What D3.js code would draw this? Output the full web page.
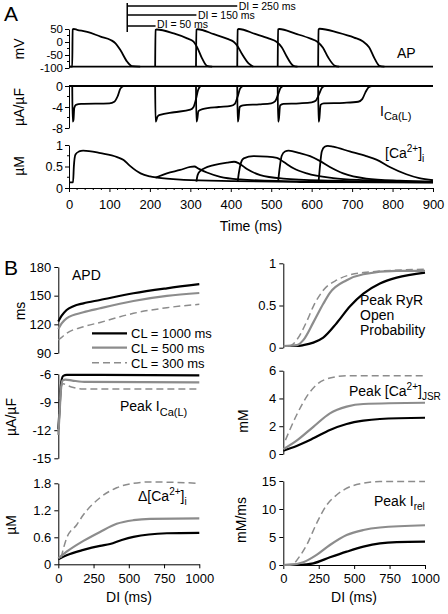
<!DOCTYPE html>
<html><head><meta charset="utf-8">
<script src="https://cdn.jsdelivr.net/npm/d3@7"></script>
<style>
body{margin:0;background:#fff}
svg{font-family:"Liberation Sans",Arial,Helvetica,sans-serif;}
</style></head><body>
<svg id="c" width="448" height="614"></svg>
<script>
// ---------------- DATA: Panel A ----------------
const timeTicks = [0,100,200,300,400,500,600,700,800,900];
const apTicks = [50,0,-50,-100];
const icaTicks = [0,-4,-8];
const caTicks = [0,0.5,1];
const restV = -95;
const ap1 = [[0,-95],[8,-95],[9,48],[12,50],[20,47],[45,39],[78,21],[103,8],[115,-5],[127,-31],[144,-76],[156,-93],[176,-95]];
const ap2 = [[213,-95],[214,46],[217,48],[259,33],[292,14],[308,1],[316,-18],[329,-63],[341,-92],[354,-95]];
const ap3 = [[314,-95],[315,47],[318,49],[358,30],[392,12],[407,1],[415,-12],[427,-44],[444,-82],[456,-95]];
const ap4 = [[416,-95],[417,47],[420,50],[460,31],[495,13],[513,1],[526,-20],[538,-55],[555,-92],[565,-95]];
const ap5 = [[516,-95],[517,48],[520,50],[560,32],[597,13],[614,1],[628,-22],[641,-60],[658,-92],[668,-95]];
const ap6 = [[616,-95],[617,48],[620,51],[665,36],[705,17],[727,2],[742,-20],[756,-65],[768,-92],[780,-95]];
const ica1 = [[8,0],[9,-6.8],[11,-6.5],[13,-4.2],[17,-3.6],[30,-3.4],[100,-3.3],[112,-3.0],[120,-2.0],[127,-0.5],[135,0]];
const ica2 = [[213,0],[214,-6.8],[216,-6.5],[219,-5.8],[225,-5.5],[260,-5.0],[300,-4.5],[308,-4.0],[314,-2.5],[319,-0.8],[325,0]];
const ica3 = [[314,0],[315,-6.8],[317,-6.4],[320,-4.8],[330,-4.4],[370,-4.0],[400,-3.8],[410,-3.4],[417,-2.0],[423,-0.5],[430,0]];
const ica4 = [[416,0],[417,-6.8],[419,-6.3],[422,-4.0],[430,-3.7],[470,-3.5],[500,-3.3],[510,-2.9],[517,-1.6],[523,-0.4],[530,0]];
const ica5 = [[516,0],[517,-6.8],[519,-6.2],[522,-3.7],[530,-3.4],[570,-3.3],[600,-3.1],[610,-2.8],[618,-1.6],[625,-0.4],[632,0]];
const ica6 = [[616,0],[617,-6.8],[619,-6.2],[622,-3.6],[630,-3.3],[680,-3.2],[715,-3.0],[725,-2.5],[733,-1.2],[740,-0.3],[748,0]];
const ca1 = [[0,0.13],[10,0.13],[12,0.5],[16,0.78],[25,0.85],[35,0.87],[78,0.81],[119,0.72],[135,0.65],[150,0.52],[177,0.34],[200,0.27],[218,0.24],[284,0.19],[407,0.16],[571,0.14],[900,0.13]];
const ca2 = [[214,0.24],[242,0.34],[275,0.42],[300,0.49],[310,0.5],[320,0.45],[341,0.36],[374,0.26],[423,0.2],[530,0.16],[700,0.14],[900,0.13]];
const ca3 = [[315,0.15],[318,0.3],[325,0.4],[335,0.46],[358,0.53],[391,0.59],[408,0.61],[419,0.58],[440,0.44],[473,0.3],[530,0.22],[653,0.17],[900,0.13]];
const ca4 = [[417,0.14],[420,0.35],[425,0.58],[432,0.69],[456,0.74],[490,0.73],[514,0.7],[530,0.61],[555,0.46],[588,0.34],[653,0.23],[735,0.18],[900,0.14]];
const ca5 = [[517,0.14],[520,0.4],[526,0.75],[534,0.85],[543,0.87],[571,0.81],[596,0.74],[620,0.63],[645,0.49],[678,0.34],[735,0.22],[817,0.17],[900,0.15]];
const ca6 = [[617,0.14],[620,0.45],[625,0.85],[632,0.96],[640,0.98],[653,0.96],[694,0.85],[735,0.74],[760,0.66],[793,0.49],[834,0.32],[866,0.23],[900,0.18]];
const diStart = 144;
const diEnds = [416,315,214];
const diLabels = ["DI = 250 ms","DI = 150 ms","DI = 50 ms"];

// ---------------- DATA: Panel B ----------------
const diTicks = [0,250,500,750,1000];
const clLabels = ["CL = 1000 ms","CL = 500 ms","CL = 300 ms"];
const apdTicks = [90,120,150,180];
const apd1000 = [[0,123],[24,129],[59,135],[107,139],[178,142],[296,145.5],[533,152.5],[770,157.7],[1000,162]];
const apd500 = [[0,115],[24,121],[59,126.3],[178,132.6],[296,136.8],[533,144.4],[770,149.7],[1000,152.8]];
const apd300 = [[0,103.6],[24,106.4],[59,110.6],[178,117.5],[296,122],[533,131.5],[770,137.4],[1000,141]];
const pkIcaTicks = [-15,-12,-9,-6];
const pkIca1000 = [[0,-11.9],[8,-10],[15,-8],[20,-7],[24,-6.6],[35,-6.2],[60,-6.1],[300,-6.1],[1000,-6.15]];
const pkIca500 = [[0,-12.5],[8,-10.5],[15,-8.5],[22,-7.2],[30,-6.7],[50,-6.6],[100,-6.7],[200,-6.85],[1000,-6.9]];
const pkIca300 = [[0,-12.2],[8,-10.2],[15,-8.2],[22,-7.3],[35,-7.05],[60,-7.2],[107,-7.45],[178,-7.6],[1000,-7.6]];
const dCaTicks = [0,0.6,1.2,1.8];
const dCa1000 = [[0,0.11],[59,0.2],[178,0.32],[296,0.41],[367,0.45],[450,0.54],[533,0.61],[770,0.69],[1000,0.7]];
const dCa500 = [[0,0.13],[59,0.28],[178,0.52],[296,0.72],[414,0.9],[533,0.98],[651,1.01],[1000,1.02]];
const dCa300 = [[20,0.15],[59,0.58],[131,0.88],[178,1.1],[296,1.48],[414,1.7],[533,1.8],[651,1.83],[1000,1.8]];
const ryrTicks = [0,0.5,1];
const ryr1000 = [[0,0.02],[94,0.02],[141,0.03],[212,0.06],[282,0.12],[376,0.29],[471,0.49],[565,0.64],[682,0.76],[800,0.83],[1000,0.89]];
const ryr500 = [[0,0.02],[94,0.03],[141,0.09],[212,0.3],[282,0.52],[329,0.65],[447,0.8],[565,0.87],[800,0.91],[1000,0.91]];
const ryr300 = [[40,0.02],[59,0.03],[94,0.09],[165,0.31],[212,0.49],[282,0.68],[376,0.8],[565,0.89],[1000,0.93]];
const jsrTicks = [0,2,4,6];
const jsr1000 = [[0,0.24],[94,0.58],[212,1.13],[329,1.73],[447,2.16],[565,2.4],[682,2.52],[1000,2.61]];
const jsr500 = [[0,0.34],[94,0.96],[212,1.96],[329,2.93],[447,3.41],[565,3.6],[1000,3.69]];
const jsr300 = [[15,1.0],[94,2.81],[165,4.13],[235,4.99],[329,5.47],[447,5.63],[1000,5.63]];
const relTicks = [0,5,10,15];
const rel1000 = [[0,0],[118,0.02],[212,0.3],[329,1.37],[447,2.38],[565,3.27],[682,3.87],[800,4.1],[1000,4.17]];
const rel500 = [[0,0],[47,0.02],[141,0.48],[235,1.8],[329,3.57],[447,5.36],[565,6.25],[682,6.7],[1000,7.1]];
const rel300 = [[85,0.5],[165,3.57],[235,7.44],[306,10.7],[376,12.5],[447,13.7],[565,14.6],[682,14.9],[1000,14.9]];

// ---------------- DRAW ----------------
const svg = d3.select("#c");
const FONT = 13;
const styles = [
  {stroke:"#000", width:2.2, dash:null},
  {stroke:"#8c8c8c", width:2.2, dash:null},
  {stroke:"#8c8c8c", width:1.5, dash:"7,4"}
];

function yAxis(x, scale, ticks, opts={}) {
  const g = svg.append("g").attr("transform", `translate(${x},0)`)
    .call(d3.axisLeft(scale).tickValues(ticks).tickSize(4).tickSizeOuter(0)
      .tickPadding(opts.pad ?? 3).tickFormat(d => String(d)));
  g.selectAll("text").attr("font-size", opts.fs ?? FONT).attr("fill","#000");
  g.attr("font-family", null);
  g.selectAll("line,path").attr("stroke","#000");
  if (opts.minor) {
    opts.minor.forEach(v => g.append("line").attr("x1",-2).attr("x2",0).attr("y1",scale(v)).attr("y2",scale(v)).attr("stroke","#000"));
  }
  return g;
}
function xAxis(y, scale, ticks, opts={}) {
  const g = svg.append("g").attr("transform", `translate(0,${y})`)
    .call(d3.axisBottom(scale).tickValues(ticks).tickSize(4).tickSizeOuter(0)
      .tickPadding(opts.pad ?? 5).tickFormat(d => String(d)));
  g.selectAll("text").attr("font-size", opts.fs ?? FONT).attr("fill","#000");
  g.attr("font-family", null);
  g.selectAll("line,path").attr("stroke","#000");
  if (opts.minor) {
    opts.minor.forEach(v => g.append("line").attr("y1",0).attr("y2",2).attr("x1",scale(v)).attr("x2",scale(v)).attr("stroke","#000"));
  }
  return g;
}
function rotLabel(x, y, txt, fs=14) {
  return svg.append("text").attr("transform", `translate(${x},${y}) rotate(-90)`)
    .attr("text-anchor","middle").attr("font-size", fs).text(txt);
}
function drawLines(series, xs, ys, curve, styleArr, w) {
  const line = d3.line().x(d => xs(d[0])).y(d => ys(d[1])).curve(curve);
  series.forEach((s,i) => {
    const st = styleArr[i];
    svg.append("path").datum(s).attr("fill","none").attr("stroke",st.stroke)
      .attr("stroke-width", w ?? st.width).attr("stroke-dasharray", st.dash)
      .attr("stroke-linejoin","round").attr("d", line);
  });
}

// ===== Panel A =====
const xA = d3.scaleLinear().domain([0,900]).range([69,433]);
const yAP = d3.scaleLinear().domain([-100,50]).range([68,29]);
const yICa = d3.scaleLinear().domain([-8,0]).range([128,86]);
const yCa = d3.scaleLinear().domain([0,1]).range([188,145]);

svg.append("text").attr("x",4).attr("y",21).attr("font-size",21).text("A");

yAxis(69, yAP, apTicks, {minor:[25,-25,-75], pad:2, fs:11.5});
yAxis(69, yICa, icaTicks, {minor:[-2,-6], pad:2, fs:12.5});
yAxis(69, yCa, caTicks, {minor:[0.25,0.75], pad:2, fs:12.5});
const minorT = d3.range(0,901,20).filter(v => v % 100 !== 0);
xAxis(188, xA, timeTicks, {minor:minorT, pad:8});

rotLabel(24, 49, "mV");
rotLabel(24, 107, "µA/µF");
rotLabel(24, 166, "µM");
svg.append("text").attr("x",251).attr("y",231).attr("text-anchor","middle").attr("font-size",14).text("Time (ms)");

// baselines
const lineA = (ys) => d3.line().x(d => xA(d[0])).y(d => ys(d[1])).curve(d3.curveMonotoneX);
svg.append("path").datum([[0,restV],[900,restV]]).attr("fill","none").attr("stroke","#000").attr("stroke-width",1.8).attr("d", lineA(yAP));
svg.append("path").datum([[0,0],[900,0]]).attr("fill","none").attr("stroke","#000").attr("stroke-width",1.8).attr("d", lineA(yICa));
[ap1,ap2,ap3,ap4,ap5,ap6].forEach(s => svg.append("path").datum(s).attr("fill","none").attr("stroke","#000").attr("stroke-width",1.8).attr("stroke-linejoin","round").attr("d", lineA(yAP)));
[ica1,ica2,ica3,ica4,ica5,ica6].forEach(s => svg.append("path").datum(s).attr("fill","none").attr("stroke","#000").attr("stroke-width",1.8).attr("stroke-linejoin","round").attr("d", lineA(yICa)));
[ca1,ca2,ca3,ca4,ca5,ca6].forEach(s => svg.append("path").datum(s).attr("fill","none").attr("stroke","#000").attr("stroke-width",1.8).attr("stroke-linejoin","round").attr("d", lineA(yCa)));

// right labels
svg.append("text").attr("x",397).attr("y",58).attr("font-size",14).text("AP");
const tI = svg.append("text").attr("x",380).attr("y",116).attr("font-size",14);
tI.append("tspan").text("I");
tI.append("tspan").attr("font-size",11).attr("dy",4).text("Ca(L)");
const tC = svg.append("text").attr("x",385).attr("y",158).attr("font-size",14);
tC.append("tspan").text("[Ca");
tC.append("tspan").attr("font-size",10).attr("dy",-6).text("2+");
tC.append("tspan").attr("dy",6).text("]");
tC.append("tspan").attr("font-size",10).attr("dy",4).text("i");

// DI bars
const diY = [6,15,26];
const diTextY = [10,19,28];
svg.append("line").attr("x1",xA(diStart)).attr("x2",xA(diStart)).attr("y1",3).attr("y2",32).attr("stroke","#000").attr("stroke-width",1.5);
diEnds.forEach((e,i) => {
  svg.append("line").attr("x1",xA(diStart)).attr("x2",xA(e)).attr("y1",diY[i]).attr("y2",diY[i]).attr("stroke","#000").attr("stroke-width",1.5);
  svg.append("text").attr("x",xA(e)+1.5).attr("y",diTextY[i]).attr("font-size",10.5).text(diLabels[i]);
});

// ===== Panel B =====
const xL = d3.scaleLinear().domain([0,1000]).range([58.3,199.3]);
const xR = d3.scaleLinear().domain([0,1000]).range([283.3,425]);
const yAPD = d3.scaleLinear().domain([90,180]).range([353,267]);
const yPk = d3.scaleLinear().domain([-15,-6]).range([458.3,374]);
const yDCa = d3.scaleLinear().domain([0,1.8]).range([564.3,483.3]);
const yRyR = d3.scaleLinear().domain([0,1]).range([347.7,263.3]);
const yJSR = d3.scaleLinear().domain([0,6]).range([454,370.7]);
const yRel = d3.scaleLinear().domain([0,15]).range([565,481]);

svg.append("text").attr("x",4).attr("y",275).attr("font-size",21).text("B");

yAxis(58.3, yAPD, apdTicks);
yAxis(58.3, yPk, pkIcaTicks);
yAxis(58.3, yDCa, dCaTicks);
xAxis(564.3, xL, diTicks);
yAxis(283.3, yRyR, ryrTicks);
yAxis(283.3, yJSR, jsrTicks);
yAxis(283.3, yRel, relTicks);
xAxis(565, xR, diTicks);

rotLabel(25, 311, "ms");
rotLabel(16, 417, "µA/µF");
rotLabel(16, 525, "µM");
rotLabel(248, 421, "mM");
rotLabel(246, 520, "mM/ms");
svg.append("text").attr("x",129).attr("y",602).attr("text-anchor","middle").attr("font-size",14).text("DI (ms)");
svg.append("text").attr("x",354).attr("y",602).attr("text-anchor","middle").attr("font-size",14).text("DI (ms)");

const cm = d3.curveMonotoneX;
drawLines([apd1000,apd500,apd300], xL, yAPD, cm, styles);
drawLines([pkIca1000,pkIca500,pkIca300], xL, yPk, cm, styles);
drawLines([dCa1000,dCa500,dCa300], xL, yDCa, cm, styles);
drawLines([ryr1000,ryr500,ryr300], xR, yRyR, cm, styles);
drawLines([jsr1000,jsr500,jsr300], xR, yJSR, cm, styles);
drawLines([rel1000,rel500,rel300], xR, yRel, cm, styles);

// legend
const legY = [333.3,347.7,362.7];
clLabels.forEach((t,i) => {
  const st = styles[i];
  svg.append("line").attr("x1",92).attr("x2",127).attr("y1",legY[i]).attr("y2",legY[i])
    .attr("stroke",st.stroke).attr("stroke-width",st.width).attr("stroke-dasharray",st.dash);
  svg.append("text").attr("x",131).attr("y",legY[i]+5).attr("font-size",13).text(t);
});

// panel labels
svg.append("text").attr("x",72).attr("y",280).attr("font-size",14).text("APD");
["Peak RyR","Open","Probability"].forEach((t,i) =>
  svg.append("text").attr("x",360).attr("y",305+i*15).attr("font-size",14).text(t));
const p1 = svg.append("text").attr("x",120).attr("y",411).attr("font-size",14);
p1.append("tspan").text("Peak I");
p1.append("tspan").attr("font-size",11).attr("dy",5).text("Ca(L)");
const p2 = svg.append("text").attr("x",349).attr("y",396).attr("font-size",14);
p2.append("tspan").text("Peak [Ca");
p2.append("tspan").attr("font-size",10).attr("dy",-6).text("2+");
p2.append("tspan").attr("dy",6).text("]");
p2.append("tspan").attr("font-size",10).attr("dy",4).text("JSR");
const p3 = svg.append("text").attr("x",138).attr("y",501).attr("font-size",14);
p3.append("tspan").text("Δ[Ca");
p3.append("tspan").attr("font-size",10).attr("dy",-6).text("2+");
p3.append("tspan").attr("dy",6).text("]");
p3.append("tspan").attr("font-size",10).attr("dy",4).text("i");
const p4 = svg.append("text").attr("x",374).attr("y",506).attr("font-size",14);
p4.append("tspan").text("Peak I");
p4.append("tspan").attr("font-size",10).attr("dy",4).text("rel");
</script>
</body></html>
